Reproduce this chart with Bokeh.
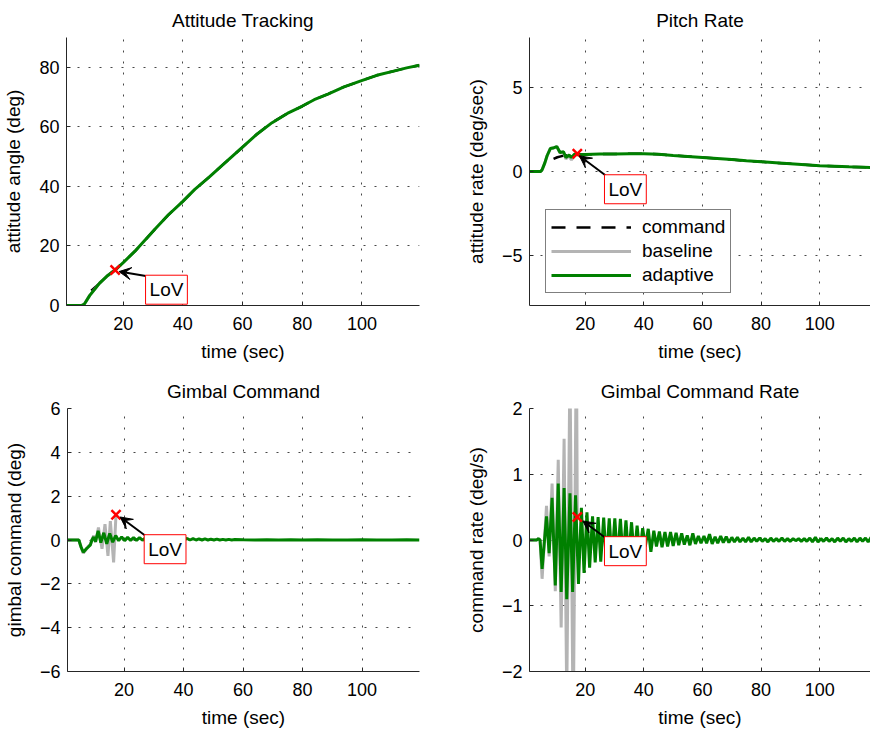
from bokeh.plotting import figure
from bokeh.layouts import column, row
from bokeh.models import (Range1d, FixedTicker, Legend, LegendItem, Arrow, VeeHead, Label)
from bokeh.embed import file_html
from bokeh.resources import INLINE

# ---------------- data ----------------
x_ticks = [20, 40, 60, 80, 100]

# Attitude tracking (deg)
att_t = [1, 6, 7, 8.8, 10.5, 12.1, 14.5, 17.3, 20, 24.3, 31, 35, 39.9, 44, 48.8, 54,
         59.9, 64.9, 69.9, 75, 79.9, 84, 88.8, 94, 99.9, 105, 111, 115, 119.3]
att_adaptive = [0, 0, 0.5, 3.4, 5.5, 7.5, 9.8, 11.9, 14.4, 18.6, 26.0, 30.3, 34.9, 39.0, 43.1, 47.8,
                53.1, 57.6, 61.4, 64.5, 66.9, 69.1, 71.1, 73.4, 75.5, 77.3, 78.8, 79.8, 80.7]
att_cmd_t = [9.3, 11.0, 12.5, 14.5, 17.3, 20, 24.3, 31, 35, 39.9, 44, 48.8, 54,
             59.9, 64.9, 69.9, 75, 79.9, 84, 88.8, 94, 99.9, 105, 111, 115, 119.3]
att_cmd = [5.0, 6.5, 7.9, 9.9, 12.0, 14.4, 18.6, 26.0, 30.3, 34.9, 39.0, 43.1, 47.8,
           53.1, 57.6, 61.4, 64.5, 66.9, 69.1, 71.1, 73.4, 75.5, 77.3, 78.8, 79.8, 80.7]
att_base_t = [1, 6, 7, 8.8, 10.5, 12.1, 14.5, 17.3]
att_base = [0, 0, 0.5, 3.4, 5.5, 7.5, 9.8, 11.9]

# Pitch rate (deg/sec)
pr_t = [1, 4.8, 5.3, 6.2, 7.0, 8.1, 9.0, 10.3, 11.4, 12.6, 13.4, 14.5, 15.3, 16.4, 17.3, 18.5,
        20, 25, 30, 35, 40, 45, 50, 55, 60, 65, 70, 75, 80, 85, 90, 95, 100, 105, 110, 117.3]
pr_adaptive = [0, 0, 0.1, 0.5, 0.94, 1.37, 1.4, 1.49, 1.14, 1.18, 0.84, 0.98, 0.84, 1.04, 1.0, 1.0,
               1.02, 1.04, 1.05, 1.06, 1.06, 1.03, 0.96, 0.9, 0.84, 0.78, 0.71, 0.64, 0.58, 0.52,
               0.46, 0.40, 0.34, 0.31, 0.28, 0.24]
pr_cmd_t = [9.2, 10.5, 12, 14, 16, 17.3, 20, 25, 30, 35, 40, 45, 50, 55, 60, 65, 70, 75, 80,
            85, 90, 95, 100, 105, 110, 117.3]
pr_cmd = [0.75, 0.85, 0.92, 0.97, 1.0, 1.01, 1.02, 1.04, 1.05, 1.06, 1.06, 1.03, 0.96, 0.9, 0.84,
          0.78, 0.71, 0.64, 0.58, 0.52, 0.46, 0.40, 0.34, 0.31, 0.28, 0.24]
pr_base_t = [1, 4.8, 5.3, 6.2, 7.0, 8.1, 9.0, 10.3, 11.4, 12.6, 13.4, 14.2, 15.3, 16.3, 17.3]
pr_base = [0, 0, 0.1, 0.5, 0.94, 1.37, 1.4, 1.49, 1.12, 1.15, 0.74, 0.95, 0.70, 0.95, 1.06]

# Gimbal command (deg)
gc_t = [1, 4.8, 5.5, 6.3, 7.2, 7.9, 8.7, 9.2, 9.8, 10.4, 11.3, 12.2, 13.2, 14.2, 15.2, 16.2,
        17.2, 18.2, 19.2, 20.2, 21.2, 22.2, 23.2, 24.2, 25.2, 26.2, 27.2, 28.2, 29.2, 30.2,
        31.2, 32.2, 33.2, 34.2, 35.2, 36.2, 37.2, 38.2, 39.2, 40.2, 41.2, 42.2, 43.2, 44.2,
        45.2, 46.2, 47.2, 48.2, 49.2, 50.2, 51.2, 52.2, 53.2, 54.2, 55.2, 56.2, 57.2, 60, 64,
        68, 72, 76, 80, 85, 90, 95, 100, 105, 110, 115, 119.3]
gc_adaptive = [0, 0, -0.3, -0.56, -0.42, -0.33, -0.22, 0.0, 0.14, -0.08, 0.42, -0.12, 0.33, -0.18,
               0.30, -0.10, 0.20, -0.03, 0.14, -0.03, 0.12, -0.02, 0.11, -0.02, 0.11, -0.01, 0.10,
               -0.01, 0.09, 0.0, 0.09, 0.0, 0.08, 0.0, 0.08, 0.01, 0.07, 0.01, 0.06, 0.01, 0.07,
               0.0, 0.06, 0.0, 0.05, 0.0, 0.05, 0.0, 0.04, 0.0, 0.04, 0.0, 0.03, 0.0, 0.03, 0.0,
               0.02, 0.01, 0.0, 0.01, 0.0, 0.01, 0.0, 0.01, 0.0, 0.0, 0.01, 0.0, 0.0, 0.01, 0.0]
gc_base_t = [1, 4.8, 5.5, 6.3, 7.2, 7.9, 8.7, 9.2, 9.8, 10.5, 11.4, 12.6, 13.6, 14.6, 15.4, 16.5, 17.3]
gc_base = [0, 0, -0.3, -0.6, -0.45, -0.3, -0.2, 0.0, 0.2, -0.1, 0.57, -0.4, 0.72, -0.72, 0.86,
           -1.02, 1.15]

# Gimbal command rate (deg/s)
cr_t = [1, 3.5, 4.0, 4.6, 5.3, 6.8, 7.7, 8.7, 9.8, 10.8, 11.8, 12.8, 13.7, 14.8, 15.7, 16.7,
        17.7, 18.7, 19.6, 20.6, 21.5, 22.5, 23.4, 24.4, 25.3, 26.3, 27.2, 28.2, 29.1, 30.1,
        31.0, 32.0, 32.9, 33.9, 34.8, 35.8, 36.7, 37.7, 38.6, 39.6, 40.5, 41.5, 42.4, 43.4,
        44.3, 45.3, 46.2, 47.2, 48.1, 49.1, 50.0, 51.0, 51.9, 52.9, 53.8, 54.8, 55.7, 56.7,
        57.6, 58.6, 59.5, 60.5, 61.4, 62.4, 63.3, 64.3, 65.2, 66.2, 67.1, 68.1, 69.0, 70.0,
        70.9, 71.9, 72.8, 73.8, 74.7, 75.7, 76.6, 77.6, 78.5, 79.5, 80.4, 81.4, 82.3, 83.3,
        84.2, 85.2, 86.1, 87.1, 88.0, 89.0, 89.9, 90.9, 91.8, 92.8, 93.7, 94.7, 95.6, 96.6,
        97.5, 98.5, 99.4, 100.4, 101.3, 102.3, 103.2, 104.2, 105.1, 106.1, 107.0, 108.0,
        108.9, 109.9, 110.8, 111.8, 112.7, 113.7, 114.6, 115.6, 116.5, 117.5]
cr_adaptive = [0, 0, 0.02, 0.0, -0.44, 0.36, -0.2, 0.64, -0.69, 0.86, -0.79, 0.79, -0.9, 0.71,
               -0.79, 0.68,
               -0.67, 0.49, -0.5, 0.42, -0.42, 0.36, -0.34, 0.35, -0.33, 0.34, -0.32, 0.33, -0.3,
               0.33, -0.3, 0.32, -0.28, 0.30, -0.27, 0.27, -0.24, 0.22, -0.20, 0.18, -0.10, 0.17,
               -0.18, 0.14, -0.10, 0.13, -0.11, 0.12, -0.10, 0.12, -0.09, 0.11, -0.08, 0.10,
               -0.07, 0.07, -0.08, 0.10, -0.06, 0.06, -0.05, 0.06, -0.05, 0.09, -0.06, 0.05,
               -0.05, 0.06, -0.04, 0.05, -0.04, 0.04, -0.03, 0.04, -0.03, 0.03, -0.03, 0.04,
               -0.03, 0.03, -0.02, 0.03, -0.02, 0.02, -0.03, 0.03, -0.02, 0.02, -0.02, 0.03,
               -0.02, 0.02, -0.02, 0.02, -0.01, 0.02, -0.02, 0.02, -0.02, 0.03, -0.03, 0.04,
               -0.03, 0.02, -0.02, 0.03, -0.02, 0.02, -0.03, 0.03, -0.02, 0.03, -0.03, 0.02,
               -0.02, 0.03, -0.03, 0.03, -0.02, 0.03, -0.03, 0.04]
cr_base_t = [1, 3.5, 4.0, 4.6, 5.3, 6.8, 7.7, 8.7, 9.8, 10.8, 11.8, 12.8, 13.7, 14.8, 15.9, 17.0, 17.3]
cr_base = [0, 0, 0.02, 0.0, -0.59, 0.52, -0.25, 0.86, -0.78, 1.22, -1.33, 1.54, -2.4, 2.7, -3.0,
           3.2, 0.35]

# Loss-of-vehicle (LoV) points: time and value per panel
lov_t = 17.3
lov_vals = [11.9, 1.06, 1.15, 0.35]

# ---------------- styling / layout ----------------
FONT = "Liberation Sans"
GREEN = "#008000"
GRAY = "#b4b4b4"
AXC = "#262626"

W_L, W_R = 462, 408            # figure widths (left / right column)
H_T, H_B = 371, 359            # figure heights (top / bottom row)
ML, MT = 62, 29                # left / top borders
MR_L, MR_R = 43, 0             # right borders requested
MB_T, MB_B = 66, 54            # bottom borders requested


def make_fig(title, ylabel, xmax, yr, yticks, w, h, mr, mb):
    p = figure(width=w, height=h, x_range=Range1d(1, xmax),
               y_range=Range1d(*yr), output_backend="svg", toolbar_location=None, title=title,
               min_border_left=ML, min_border_right=mr, min_border_top=MT, min_border_bottom=mb)
    p.title.text_font = FONT
    p.title.text_font_size = "19px"
    p.title.text_font_style = "normal"
    p.title.align = "center"
    p.title.standoff = 14
    p.title.text_color = "black"
    p.outline_line_color = None
    p.background_fill_color = "white"
    p.border_fill_color = "white"
    for ax, ticks in ((p.xaxis[0], x_ticks), (p.yaxis[0], yticks)):
        ax.ticker = FixedTicker(ticks=ticks)
        ax.axis_line_color = AXC
        ax.axis_line_width = 1
        ax.major_tick_in = 4
        ax.major_tick_out = 0
        ax.major_tick_line_color = AXC
        ax.minor_tick_line_color = None
        ax.major_label_text_font = FONT
        ax.major_label_text_font_size = "18px"
        ax.major_label_text_color = "black"
        ax.axis_label_text_font = FONT
        ax.axis_label_text_font_size = "19px"
        ax.axis_label_text_font_style = "normal"
        ax.axis_label_text_color = "black"
        ax.major_label_overrides = {v: "\u2212" + str(abs(v)) for v in ticks if v < 0}
    p.xaxis.axis_label = "time (sec)"
    p.yaxis.axis_label = ylabel
    p.xaxis.major_label_standoff = 11
    p.xaxis.axis_label_standoff = 8
    p.yaxis.major_label_standoff = 7
    p.yaxis.axis_label_standoff = 12
    for g in (p.xgrid, p.ygrid):
        g.grid_line_color = "#333333"
        g.grid_line_dash = "2 9"
        g.grid_line_width = 1
        g.grid_line_alpha = 0.9
    return p


def add_lov(p, yval, box_x, box_y, tail, head):
    p.scatter([lov_t], [yval], marker="x", size=13, line_color="red", line_width=2.5)
    p.add_layout(Arrow(end=VeeHead(size=12, fill_color="black", line_color="black", line_width=1),
                       x_start=tail[0], y_start=tail[1], x_end=head[0], y_end=head[1],
                       line_width=2, line_color="black"))
    p.add_layout(Label(x=box_x, y=box_y, text="LoV", text_align="center", text_baseline="middle",
                       text_font=FONT, text_font_size="19px", text_color="black",
                       border_line_color="red", border_line_width=1,
                       background_fill_color="white", padding=4))


# Top-left: attitude tracking (label box kept just above the axis so it is not clipped)
p1 = make_fig("Attitude Tracking", "attitude angle (deg)", 119.3, (0, 90), [0, 20, 40, 60, 80],
              W_L, H_T, MR_L, MB_T)
p1.line(att_cmd_t, att_cmd, line_color="black", line_width=2.5, line_dash="14 11")
p1.line(att_base_t, att_base, line_color=GRAY, line_width=3)
p1.line(att_t, att_adaptive, line_color=GREEN, line_width=3)
add_lov(p1, lov_vals[0], 34.5, 5.3, (27.6, 9.9), (18.6, 11.4))

# Top-right: pitch rate
p2 = make_fig("Pitch Rate", "attitude rate (deg/sec)", 117.3, (-8, 8), [-5, 0, 5],
              W_R, H_T, MR_R, MB_T)
r_cmd = p2.line(pr_cmd_t, pr_cmd, line_color="black", line_width=2.5, line_dash="14 11")
r_base = p2.line(pr_base_t, pr_base, line_color=GRAY, line_width=3)
r_ad = p2.line(pr_t, pr_adaptive, line_color=GREEN, line_width=3)
add_lov(p2, lov_vals[1], 33.7, -1.06, (27.0, -0.24), (18.0, 0.94))
legend = Legend(items=[LegendItem(label="command", renderers=[r_cmd]),
                       LegendItem(label="baseline", renderers=[r_base]),
                       LegendItem(label="adaptive", renderers=[r_ad])],
                location=(16, 12), margin=0, padding=5, spacing=0,
                glyph_width=80, glyph_height=24, label_height=24, label_standoff=11,
                label_text_font=FONT, label_text_font_size="19px", label_text_color="black",
                border_line_color="black", border_line_width=1, background_fill_color="white",
                background_fill_alpha=1.0)
p2.add_layout(legend)

# Bottom-left: gimbal command
p3 = make_fig("Gimbal Command", "gimbal command (deg)", 119.3, (-6, 6), [-6, -4, -2, 0, 2, 4, 6],
              W_L, H_B, MR_L, MB_B)
p3.line(gc_base_t, gc_base, line_color=GRAY, line_width=3)
p3.line(gc_t, gc_adaptive, line_color=GREEN, line_width=3)
add_lov(p3, lov_vals[2], 33.8, -0.42, (27.3, 0.18), (18.7, 1.05))

# Bottom-right: gimbal command rate
p4 = make_fig("Gimbal Command Rate", "command rate (deg/s)", 117.3, (-2, 2), [-2, -1, 0, 1, 2],
              W_R, H_B, MR_R, MB_B)
p4.line(cr_base_t, cr_base, line_color=GRAY, line_width=3)
p4.line(cr_t, cr_adaptive, line_color=GREEN, line_width=3)
add_lov(p4, lov_vals[3], 33.7, -0.17, (27.0, 0.03), (19.2, 0.29))

layout = column(row(p1, p2), row(p3, p4))
open("out.html", "w").write(file_html(layout, INLINE))
